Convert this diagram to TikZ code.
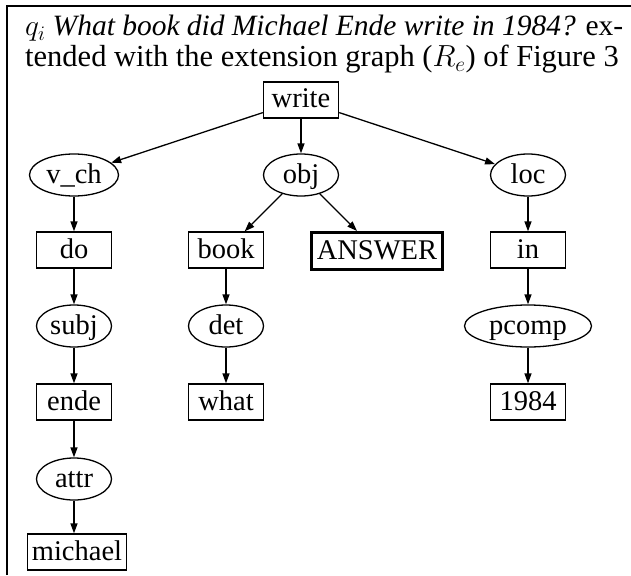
\documentclass[tikz,border=0pt]{standalone}
\usepackage{fix-cm}
\usepackage{fontspec}
\setmainfont{Liberation Serif}
\usetikzlibrary{arrows.meta,shapes.geometric}
\tikzset{
  word/.style={draw, line width=1.3pt, minimum width=75pt, minimum height=36pt, inner sep=0pt,
    text height=21pt, text depth=5pt},
  rel/.style={draw, ellipse, line width=1.3pt, minimum width=75pt, minimum height=42pt, inner sep=0pt,
    text height=21pt, text depth=5pt},
  answer/.style={word, line width=3pt, minimum width=131pt, minimum height=37pt},
  dep/.style={-{Triangle[length=10pt,width=7pt]}, line width=1.3pt},
  hdr/.style={anchor=base west, inner sep=0pt},
}
\begin{document}
\begin{tikzpicture}[x=1pt,y=-1pt,font=\fontsize{28.5}{34}\selectfont]
  \useasboundingbox (0,0) rectangle (631,575);
  \draw[line width=1.5pt] (7,575) -- (7,6) -- (631,6);
  % caption of the query
  \node[hdr, font=\fontsize{29.5}{34}\selectfont] (cap1) at (25,36)
    {\makebox[598pt][s]{$q_i$ \textit{What book did Michael Ende write in 1984?} ex-}};
  \node[hdr, font=\fontsize{30.5}{34}\selectfont] (cap2) at (25,67)
    {tended with the extension graph ($R_e$) of Figure 3};
  % dependency tree
  \node[word] (write) at (301,100) {write};
  \node[rel, minimum width=89pt] (vch) at (74,175) {v\_ch};
  \node[rel] (obj) at (301,175) {obj};
  \node[rel] (loc) at (528,175) {loc};
  \node[word] (do) at (74,250) {do};
  \node[word] (book) at (226,250) {book};
  \node[answer] (ans) at (377,251) {ANSWER};
  \node[word] (in) at (528,250) {in};
  \node[rel] (subj) at (74,326) {subj};
  \node[rel] (det) at (226,326) {det};
  \node[rel, minimum width=127pt] (pcomp) at (528,326) {pcomp};
  \node[word] (ende) at (74,402) {ende};
  \node[word] (what) at (226,402) {what};
  \node[word] (year) at (528,402) {1984};
  \node[rel] (attr) at (74,479) {attr};
  \node[word, minimum width=99pt] (michael) at (77,552) {michael};
  \foreach \a/\b in {write/vch, write/obj, write/loc, vch/do, do/subj, subj/ende,
                     ende/attr, obj/book, obj/ans, book/det, det/what,
                     loc/in, in/pcomp, pcomp/year}
    \draw[dep] (\a) -- (\b);
  \draw[dep] (attr) -- (attr.south |- michael.north);
\end{tikzpicture}
\end{document}
